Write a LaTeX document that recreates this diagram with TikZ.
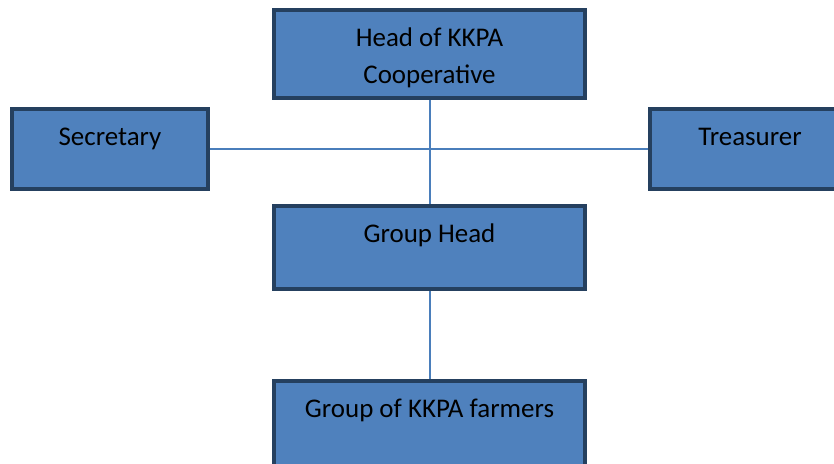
\documentclass[tikz,border=0pt]{standalone}
\usepackage{fontspec}
\setmainfont{Carlito}
\usepackage{tikz}
\usetikzlibrary{positioning}

\definecolor{boxfill}{HTML}{4F81BD}
\definecolor{boxline}{HTML}{25405F}
\definecolor{linkcol}{HTML}{4A7EBB}

\begin{document}
\begin{tikzpicture}[x=0.03cm,y=-0.03cm,
	box/.style={draw=boxline,fill=boxfill,line width=0.12cm,rectangle,inner sep=0pt},
	lbl/.style={inner sep=0pt,align=center,text=black,font=\fontsize{23}{31.5}\selectfont},
	link/.style={draw=linkcol,line width=0.06cm}]
\def\u{0.03cm}

\useasboundingbox (0,0) rectangle (834,463);
\clip (0,0) rectangle (834,463);

%boxes
\node[box,minimum width=311*\u,minimum height=88*\u] (head) at (429.5,54) {};
\node[box,minimum width=196*\u,minimum height=80*\u] (sec) at (110,149) {};
\node[box,minimum width=200*\u,minimum height=80*\u] (tre) at (750,149) {};
\node[box,minimum width=311*\u,minimum height=83*\u] (ghead) at (429.5,247.5) {};
\node[box,minimum width=311*\u,minimum height=91*\u] (farm) at (429.5,426.5) {};

%labels (base = last line)
\foreach \n/\s/\t in {head/75/{Head of KKPA\\Cooperative},sec/38/Secretary,tre/38/Treasurer,ghead/38/Group Head,farm/38/Group of KKPA farmers}
	\node[lbl,anchor=base] (\n-t) at ([yshift=-\s*\u]\n.north) {\t};

%lines
\foreach \a/\b in {sec/tre,head/ghead,ghead/farm}
	\draw[link] (\a) -- (\b);

\end{tikzpicture}
\end{document}
